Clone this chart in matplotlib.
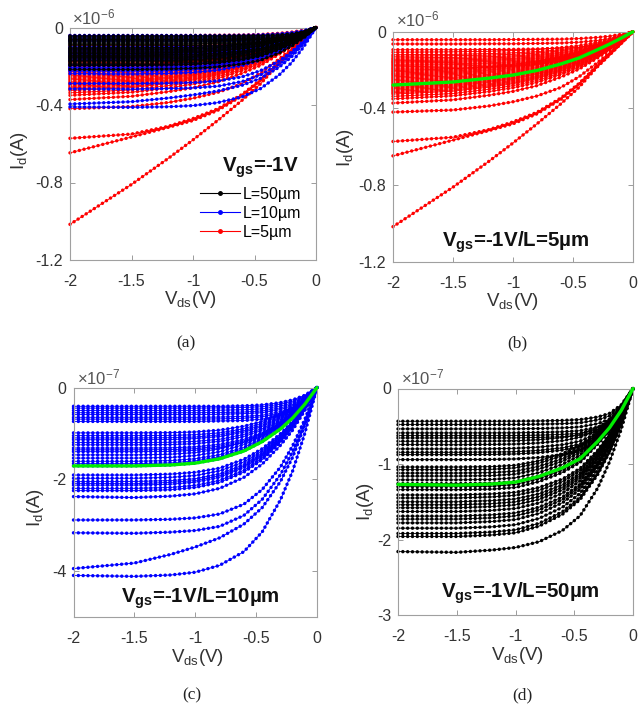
import numpy as np
import matplotlib
matplotlib.use('Agg')
import matplotlib.pyplot as plt
from matplotlib.lines import Line2D

plt.rcParams['font.family'] = ['Liberation Sans', 'DejaVu Sans']
plt.rcParams['mathtext.fontset'] = 'custom'
plt.rcParams['mathtext.rm'] = 'Liberation Sans'
plt.rcParams['mathtext.it'] = 'Liberation Sans:italic'
plt.rcParams['mathtext.bf'] = 'Liberation Sans:bold'
plt.rcParams['axes.unicode_minus'] = False

# ---------------- data ----------------
vds = [-2.0, -1.5, -1.2, -1.0, -0.8, -0.6, -0.45, -0.3, -0.2, -0.1, 0.0]

# |Id| for L = 5 um devices, unit 1e-6 A
id_5um = [
    [0.042, 0.042, 0.042, 0.041, 0.040, 0.039, 0.036, 0.030, 0.024, 0.014, 0],
    [0.064, 0.064, 0.063, 0.063, 0.061, 0.059, 0.055, 0.046, 0.036, 0.022, 0],
    [0.094, 0.094, 0.093, 0.092, 0.090, 0.086, 0.081, 0.068, 0.054, 0.032, 0],
    [0.107, 0.105, 0.102, 0.098, 0.093, 0.083, 0.073, 0.056, 0.041, 0.022, 0],
    [0.120, 0.118, 0.114, 0.110, 0.104, 0.094, 0.082, 0.062, 0.046, 0.025, 0],
    [0.128, 0.125, 0.122, 0.118, 0.111, 0.100, 0.087, 0.067, 0.049, 0.027, 0],
    [0.137, 0.134, 0.130, 0.126, 0.119, 0.107, 0.093, 0.071, 0.052, 0.029, 0],
    [0.144, 0.141, 0.137, 0.132, 0.125, 0.112, 0.098, 0.075, 0.055, 0.030, 0],
    [0.151, 0.148, 0.143, 0.139, 0.131, 0.118, 0.103, 0.079, 0.057, 0.032, 0],
    [0.157, 0.154, 0.149, 0.144, 0.137, 0.122, 0.107, 0.082, 0.060, 0.033, 0],
    [0.163, 0.160, 0.155, 0.150, 0.142, 0.127, 0.111, 0.085, 0.062, 0.034, 0],
    [0.170, 0.167, 0.162, 0.156, 0.148, 0.133, 0.116, 0.088, 0.065, 0.036, 0],
    [0.176, 0.172, 0.167, 0.162, 0.153, 0.137, 0.120, 0.092, 0.067, 0.037, 0],
    [0.183, 0.179, 0.174, 0.168, 0.159, 0.143, 0.124, 0.095, 0.070, 0.038, 0],
    [0.190, 0.186, 0.181, 0.175, 0.165, 0.148, 0.129, 0.099, 0.072, 0.040, 0],
    [0.196, 0.192, 0.186, 0.180, 0.171, 0.153, 0.133, 0.102, 0.074, 0.041, 0],
    [0.203, 0.194, 0.181, 0.170, 0.153, 0.129, 0.107, 0.075, 0.053, 0.027, 0],
    [0.209, 0.200, 0.186, 0.175, 0.158, 0.133, 0.110, 0.077, 0.054, 0.028, 0],
    [0.216, 0.206, 0.192, 0.180, 0.163, 0.137, 0.113, 0.080, 0.056, 0.029, 0],
    [0.222, 0.212, 0.198, 0.185, 0.168, 0.141, 0.117, 0.082, 0.058, 0.030, 0],
    [0.228, 0.218, 0.203, 0.190, 0.172, 0.145, 0.120, 0.084, 0.059, 0.031, 0],
    [0.235, 0.224, 0.209, 0.196, 0.177, 0.149, 0.123, 0.087, 0.061, 0.032, 0],
    [0.242, 0.231, 0.215, 0.202, 0.183, 0.154, 0.127, 0.090, 0.063, 0.033, 0],
    [0.249, 0.238, 0.222, 0.208, 0.188, 0.158, 0.131, 0.092, 0.065, 0.034, 0],
    [0.256, 0.244, 0.228, 0.214, 0.193, 0.163, 0.134, 0.095, 0.067, 0.035, 0],
    [0.263, 0.251, 0.234, 0.220, 0.199, 0.167, 0.138, 0.097, 0.068, 0.036, 0],
    [0.270, 0.258, 0.240, 0.225, 0.204, 0.171, 0.142, 0.100, 0.070, 0.036, 0],
    [0.278, 0.265, 0.247, 0.232, 0.210, 0.177, 0.146, 0.103, 0.072, 0.038, 0],
    [0.285, 0.272, 0.254, 0.238, 0.215, 0.181, 0.150, 0.105, 0.074, 0.038, 0],
    [0.291, 0.278, 0.259, 0.243, 0.220, 0.185, 0.153, 0.108, 0.076, 0.039, 0],
    [0.297, 0.284, 0.264, 0.248, 0.224, 0.189, 0.156, 0.110, 0.077, 0.040, 0],
    [0.304, 0.290, 0.271, 0.254, 0.230, 0.193, 0.160, 0.112, 0.079, 0.041, 0],
    [0.311, 0.297, 0.277, 0.260, 0.235, 0.197, 0.163, 0.115, 0.081, 0.042, 0],
    [0.318, 0.304, 0.283, 0.266, 0.240, 0.202, 0.167, 0.118, 0.083, 0.043, 0],
    [0.325, 0.310, 0.289, 0.271, 0.245, 0.206, 0.171, 0.120, 0.085, 0.044, 0],
    [0.337, 0.322, 0.300, 0.281, 0.254, 0.214, 0.177, 0.125, 0.088, 0.045, 0],
    [0.350, 0.334, 0.312, 0.292, 0.264, 0.222, 0.184, 0.130, 0.091, 0.047, 0],
    [0.372, 0.355, 0.331, 0.311, 0.281, 0.236, 0.195, 0.138, 0.097, 0.050, 0],
    [0.419, 0.408, 0.387, 0.365, 0.335, 0.290, 0.235, 0.163, 0.112, 0.057, 0],
    [0.572, 0.550, 0.510, 0.470, 0.420, 0.345, 0.270, 0.178, 0.120, 0.060, 0],
    [0.647, 0.565, 0.515, 0.480, 0.428, 0.352, 0.275, 0.181, 0.122, 0.061, 0],
    [1.016, 0.810, 0.675, 0.580, 0.480, 0.375, 0.290, 0.185, 0.124, 0.062, 0],
]
id_5um_typ = [0.278, 0.262, 0.242, 0.226, 0.202, 0.168, 0.137, 0.095, 0.066, 0.034, 0]

# |Id| for L = 10 um devices, unit 1e-7 A
id_10um = [
    [0.41, 0.41, 0.41, 0.41, 0.41, 0.40, 0.38, 0.33, 0.27, 0.17, 0],
    [0.45, 0.45, 0.45, 0.45, 0.445, 0.435, 0.42, 0.365, 0.30, 0.185, 0],
    [0.50, 0.50, 0.50, 0.50, 0.495, 0.485, 0.465, 0.405, 0.335, 0.205, 0],
    [0.55, 0.55, 0.55, 0.55, 0.545, 0.535, 0.51, 0.445, 0.37, 0.225, 0],
    [0.59, 0.59, 0.59, 0.59, 0.585, 0.57, 0.55, 0.48, 0.395, 0.24, 0],
    [0.65, 0.65, 0.65, 0.65, 0.645, 0.63, 0.605, 0.525, 0.435, 0.265, 0],
    [0.69, 0.69, 0.69, 0.69, 0.685, 0.67, 0.64, 0.56, 0.46, 0.285, 0],
    [0.74, 0.74, 0.74, 0.74, 0.73, 0.72, 0.69, 0.60, 0.495, 0.305, 0],
    [0.99, 0.99, 0.985, 0.97, 0.93, 0.845, 0.74, 0.58, 0.435, 0.245, 0],
    [1.05, 1.05, 1.045, 1.03, 0.99, 0.90, 0.78, 0.615, 0.46, 0.255, 0],
    [1.10, 1.10, 1.095, 1.08, 1.035, 0.94, 0.82, 0.645, 0.485, 0.27, 0],
    [1.14, 1.14, 1.135, 1.115, 1.07, 0.975, 0.85, 0.665, 0.50, 0.28, 0],
    [1.20, 1.20, 1.195, 1.175, 1.13, 1.025, 0.895, 0.70, 0.53, 0.295, 0],
    [1.25, 1.25, 1.245, 1.225, 1.175, 1.07, 0.93, 0.73, 0.55, 0.305, 0],
    [1.32, 1.32, 1.315, 1.295, 1.24, 1.13, 0.985, 0.77, 0.58, 0.325, 0],
    [1.36, 1.36, 1.355, 1.335, 1.28, 1.165, 1.015, 0.795, 0.60, 0.335, 0],
    [1.40, 1.40, 1.395, 1.37, 1.315, 1.195, 1.045, 0.82, 0.615, 0.345, 0],
    [1.47, 1.47, 1.455, 1.42, 1.34, 1.19, 1.015, 0.78, 0.575, 0.315, 0],
    [1.54, 1.54, 1.525, 1.485, 1.40, 1.245, 1.065, 0.815, 0.60, 0.33, 0],
    [1.61, 1.61, 1.595, 1.555, 1.465, 1.305, 1.11, 0.855, 0.63, 0.345, 0],
    [1.66, 1.66, 1.645, 1.60, 1.51, 1.345, 1.145, 0.88, 0.645, 0.355, 0],
    [1.71, 1.71, 1.69, 1.65, 1.555, 1.385, 1.18, 0.905, 0.665, 0.365, 0],
    [1.91, 1.91, 1.89, 1.85, 1.76, 1.565, 1.335, 1.01, 0.745, 0.40, 0],
    [1.98, 1.98, 1.96, 1.92, 1.82, 1.625, 1.385, 1.05, 0.77, 0.415, 0],
    [2.05, 2.05, 2.03, 1.99, 1.885, 1.68, 1.435, 1.085, 0.80, 0.43, 0],
    [2.09, 2.10, 2.07, 2.03, 1.925, 1.715, 1.465, 1.11, 0.815, 0.44, 0],
    [2.13, 2.13, 2.11, 2.065, 1.96, 1.745, 1.49, 1.13, 0.83, 0.445, 0],
    [2.20, 2.20, 2.18, 2.135, 2.025, 1.805, 1.54, 1.165, 0.86, 0.46, 0],
    [2.25, 2.25, 2.23, 2.18, 2.07, 1.845, 1.575, 1.19, 0.875, 0.47, 0],
    [2.38, 2.40, 2.37, 2.32, 2.20, 1.96, 1.67, 1.26, 0.93, 0.50, 0],
    [2.89, 2.89, 2.875, 2.845, 2.76, 2.545, 2.225, 1.735, 1.27, 0.695, 0],
    [3.17, 3.18, 3.155, 3.12, 3.03, 2.79, 2.44, 1.90, 1.395, 0.76, 0],
    [3.95, 3.83, 3.64, 3.48, 3.28, 2.98, 2.62, 2.05, 1.52, 0.82, 0],
    [4.10, 4.12, 4.09, 4.03, 3.88, 3.58, 3.15, 2.45, 1.82, 1.00, 0],
]
id_10um_typ = [1.71, 1.71, 1.69, 1.65, 1.555, 1.385, 1.18, 0.905, 0.665, 0.365, 0]

# |Id| for L = 50 um devices, unit 1e-7 A
id_50um = [
    [0.434, 0.434, 0.434, 0.433, 0.43, 0.423, 0.412, 0.378, 0.33, 0.217, 0],
    [0.478, 0.478, 0.478, 0.477, 0.473, 0.466, 0.454, 0.416, 0.363, 0.239, 0],
    [0.535, 0.535, 0.535, 0.534, 0.53, 0.522, 0.508, 0.465, 0.407, 0.268, 0],
    [0.588, 0.588, 0.588, 0.587, 0.582, 0.573, 0.559, 0.512, 0.447, 0.294, 0],
    [0.624, 0.624, 0.624, 0.623, 0.618, 0.608, 0.593, 0.543, 0.474, 0.312, 0],
    [0.655, 0.655, 0.655, 0.654, 0.648, 0.639, 0.622, 0.57, 0.498, 0.328, 0],
    [0.699, 0.70, 0.697, 0.692, 0.678, 0.65, 0.608, 0.517, 0.419, 0.259, 0],
    [0.743, 0.745, 0.741, 0.736, 0.721, 0.691, 0.646, 0.55, 0.446, 0.275, 0],
    [0.80, 0.80, 0.798, 0.792, 0.776, 0.744, 0.696, 0.592, 0.48, 0.296, 0],
    [0.845, 0.845, 0.842, 0.837, 0.82, 0.786, 0.735, 0.625, 0.507, 0.313, 0],
    [0.876, 0.876, 0.873, 0.867, 0.85, 0.815, 0.762, 0.648, 0.526, 0.324, 0],
    [0.942, 0.942, 0.939, 0.933, 0.914, 0.876, 0.82, 0.697, 0.565, 0.349, 0],
    [1.04, 1.04, 1.035, 1.017, 0.957, 0.863, 0.759, 0.572, 0.426, 0.234, 0],
    [1.075, 1.075, 1.07, 1.051, 0.989, 0.892, 0.785, 0.591, 0.441, 0.242, 0],
    [1.12, 1.12, 1.114, 1.095, 1.03, 0.93, 0.818, 0.616, 0.459, 0.252, 0],
    [1.16, 1.16, 1.154, 1.134, 1.067, 0.963, 0.847, 0.638, 0.476, 0.261, 0],
    [1.21, 1.21, 1.204, 1.183, 1.113, 1.004, 0.883, 0.666, 0.496, 0.272, 0],
    [1.26, 1.26, 1.254, 1.232, 1.159, 1.046, 0.92, 0.693, 0.517, 0.284, 0],
    [1.30, 1.30, 1.294, 1.271, 1.196, 1.079, 0.949, 0.715, 0.533, 0.293, 0],
    [1.34, 1.34, 1.333, 1.311, 1.233, 1.112, 0.978, 0.737, 0.549, 0.302, 0],
    [1.41, 1.41, 1.396, 1.375, 1.311, 1.199, 1.058, 0.818, 0.606, 0.338, 0],
    [1.45, 1.45, 1.436, 1.414, 1.349, 1.233, 1.088, 0.841, 0.624, 0.348, 0],
    [1.50, 1.50, 1.485, 1.463, 1.395, 1.275, 1.125, 0.87, 0.645, 0.36, 0],
    [1.54, 1.54, 1.525, 1.502, 1.432, 1.309, 1.155, 0.893, 0.662, 0.37, 0],
    [1.58, 1.58, 1.564, 1.541, 1.469, 1.343, 1.185, 0.916, 0.679, 0.379, 0],
    [1.63, 1.63, 1.614, 1.589, 1.516, 1.386, 1.223, 0.945, 0.701, 0.391, 0],
    [1.69, 1.69, 1.673, 1.648, 1.572, 1.437, 1.268, 0.98, 0.727, 0.406, 0],
    [1.73, 1.73, 1.713, 1.687, 1.609, 1.471, 1.298, 1.003, 0.744, 0.415, 0],
    [1.78, 1.78, 1.762, 1.736, 1.655, 1.513, 1.335, 1.032, 0.765, 0.427, 0],
    [1.85, 1.85, 1.832, 1.804, 1.721, 1.573, 1.388, 1.073, 0.796, 0.444, 0],
    [1.92, 1.92, 1.901, 1.872, 1.786, 1.632, 1.44, 1.114, 0.826, 0.461, 0],
    [1.96, 1.96, 1.94, 1.911, 1.823, 1.666, 1.47, 1.137, 0.843, 0.47, 0],
    [2.16, 2.17, 2.14, 2.106, 2.03, 1.88, 1.685, 1.318, 0.972, 0.54, 0],
]
id_50um_typ = [1.27, 1.28, 1.265, 1.24, 1.165, 1.05, 0.93, 0.70, 0.52, 0.29, 0]

legend_labels = ['L=50\u00b5m', 'L=10\u00b5m', 'L=5\u00b5m']
x_ticks = [-2, -1.5, -1, -0.5, 0]
x_ticklabels = ['-2', '-1.5', '-1', '-0.5', '0']

RED, BLUE, BLACK, GREEN = '#ff0000', '#0000ff', '#000000', '#00ee00'

# ---------------- figure ----------------
W, H = 639, 709
fig = plt.figure(figsize=(W / 100, H / 100), dpi=100)


def px(x):
    return x / W


def py(y):
    return 1 - y / H


def rect(l, t, r, b):
    return [px(l), py(b), (r - l) / W, (b - t) / H]


def draw_curves(ax, rows, color, scale=1.0, z=2):
    for row in rows:
        y = -np.asarray(row, dtype=float) * scale
        ax.plot(vds, y, color=color, lw=0.6, clip_on=False, zorder=z)
        ax.plot(vds, y, color=color, lw=2.5, ls=(0, (0.01, 1.38)),
                dash_capstyle='round', clip_on=False, zorder=z)


def draw_typ(ax, row):
    ax.plot(vds, -np.asarray(row, dtype=float), color=GREEN, lw=2.4,
            solid_capstyle='round', solid_joinstyle='round',
            clip_on=False, zorder=5)


def style(ax, ylim, yticks, yticklabels):
    ax.set_xlim(-2, 0)
    ax.set_ylim(*ylim)
    ax.set_xticks(x_ticks)
    ax.set_xticklabels(x_ticklabels)
    ax.set_yticks(yticks)
    ax.set_yticklabels(yticklabels)
    ax.tick_params(direction='in', top=True, right=True, length=3.5,
                   width=0.6, color='#8c8c8c', labelsize=11.5,
                   labelcolor='#333333')
    ax.tick_params(axis='x', pad=10)
    ax.tick_params(axis='y', pad=5)
    for sp in ax.spines.values():
        sp.set_color('#a0a0a0')
        sp.set_linewidth(0.8)


axA = fig.add_axes(rect(70, 27.5, 316, 260))
axB = fig.add_axes(rect(393, 31.7, 633, 262))
axC = fig.add_axes(rect(73.5, 387.5, 317, 616.7))
axD = fig.add_axes(rect(398, 388.5, 633, 615))

# (a) all devices, unit 1e-6 A
draw_curves(axA, id_5um, RED, 1.0, z=2)
draw_curves(axA, id_10um, BLUE, 0.1, z=3)
draw_curves(axA, id_50um, BLACK, 0.1, z=4)
style(axA, (-1.2, 0), [-1.2, -0.8, -0.4, 0], ['-1.2', '-0.8', '-0.4', '0'])
handles = [Line2D([0], [0], color=c, lw=0.8, marker='.', markersize=5)
           for c in (BLACK, BLUE, RED)]
axA.legend(handles, legend_labels, frameon=False, loc='upper left',
           bbox_to_anchor=(px(200), py(187)), bbox_transform=fig.transFigure,
           fontsize=11.5, handlelength=2.5, handletextpad=0.15,
           labelspacing=0.25, borderpad=0, borderaxespad=0, numpoints=1)

# (b) L = 5 um
draw_curves(axB, id_5um, RED)
draw_typ(axB, id_5um_typ)
style(axB, (-1.2, 0), [-1.2, -0.8, -0.4, 0], ['-1.2', '-0.8', '-0.4', '0'])

# (c) L = 10 um
draw_curves(axC, id_10um, BLUE)
draw_typ(axC, id_10um_typ)
style(axC, (-5, 0), [-4, -2, 0], ['-4', '-2', '0'])

# (d) L = 50 um
draw_curves(axD, id_50um, BLACK)
draw_typ(axD, id_50um_typ)
style(axD, (-3, 0), [-3, -2, -1, 0], ['-3', '-2', '-1', '0'])

# exponent labels
for (x, y, e) in [(72, 24, '-6'), (396, 26, '-6'), (77, 384, '-7'), (401, 384, '-7')]:
    fig.text(px(x), py(y), '\u00d710$^{' + e + '}$', fontsize=12,
             color='#555555', ha='left', va='baseline')

# axis labels
for (x, y) in [(20, 150), (345, 147), (36, 507), (365, 501)]:
    fig.text(px(x), py(y), r'I$_\mathregular{d}$(A)', fontsize=13.5,
             color='#333333', rotation=90, ha='center', va='center')
for (x, y) in [(190, 300), (512, 302), (197, 658), (517, 655)]:
    fig.text(px(x), py(y), r'V$_\mathregular{ds}$(V)', fontsize=13.5,
             color='#333333', ha='center', va='center')

# annotations
for (x, y, s) in [(222, 172, '=-1V'), (442, 247, '=-1V/L=5\u00b5m'),
                  (121, 603, '=-1V/L=10\u00b5m'), (441, 598, '=-1V/L=50\u00b5m')]:
    fig.text(px(x), py(y), r'$\mathbf{V_{gs}}$' + s, fontsize=14.8,
             fontweight='bold', color='#111111', ha='left', va='baseline')

# captions
for (x, y, s) in [(186, 343, '(a)'), (517, 343, '(b)'),
                  (192, 695, '(c)'), (522, 695, '(d)')]:
    fig.text(px(x), py(y), s, fontsize=12.5, family='Liberation Serif',
             color='#222222', ha='center', va='center')

fig.savefig('out.png', dpi=100)
